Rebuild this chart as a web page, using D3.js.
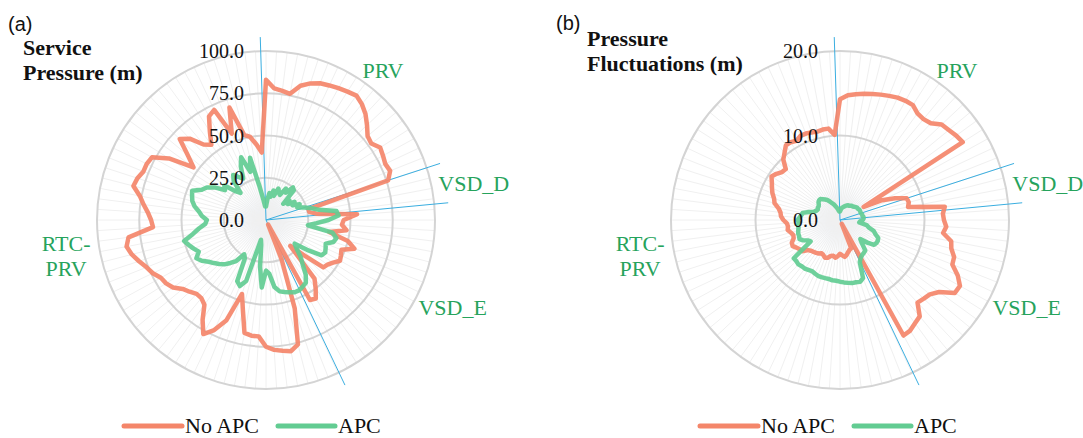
<!DOCTYPE html>
<html>
<head>
<meta charset="utf-8">
<script src="https://cdn.jsdelivr.net/npm/d3@7"></script>
<style>
  body { margin: 0; background: #fff; }
  svg { display: block; }
  .serif { font-family: "Liberation Serif", "Times New Roman", "DejaVu Serif", serif; }
  .sans { font-family: "Liberation Sans", Arial, sans-serif; }
</style>
</head>
<body>
<svg id="chart" width="1083" height="438"></svg>
<script>
// 100 nodes around the circle, starting at 12 o'clock, clockwise
const nodeCount = 100;

// (a) service pressure (m)
const pressureNoAPC = [
  83, 78, 77, 76, 82, 85, 87, 88, 89, 90,
  91, 89, 86, 82, 78, 77, 80, 79, 78, 79,
  76, 26, 26, 30, 54, 46, 45, 48, 38, 50,
  55, 48, 49, 50, 47, 45, 44, 30, 21, 45,
  50, 55, 54, 3, 25, 55, 76, 79, 78, 77,
  75, 69, 69, 68, 55, 46, 64, 72, 77, 70,
  62, 60, 60, 62, 64, 68, 70, 71, 74, 76,
  79, 82, 84, 82, 67, 68, 70, 73, 76, 81,
  80, 78, 78, 77, 68, 53, 60, 70, 66, 58,
  55, 62, 70, 72, 55, 70, 52, 50, 45, 40
];
const pressureAPC = [
  8, 12, 16, 14, 18, 15, 20, 18, 17, 22,
  20, 25, 24, 14, 18, 16, 20, 18, 22, 20,
  24, 28, 32, 42, 43, 37, 30, 25, 40, 43,
  42, 38, 39, 40, 39, 30, 22, 25, 30, 34,
  40, 44, 45, 46, 46, 45, 44, 43, 40, 32,
  30, 40, 28, 15, 12, 38, 42, 40, 26, 24,
  30, 33, 36, 38, 40, 42, 45, 47, 44, 46,
  48, 50, 44, 40, 36, 35, 38, 40, 43, 45,
  46, 47, 42, 40, 36, 30, 32, 25, 22, 30,
  33, 30, 28, 35, 40, 30, 38, 20, 12, 8
];

// (b) pressure fluctuations (m)
const fluctNoAPC = [
  14.3, 14.8, 15.0, 15.2, 15.4, 15.6, 15.8, 16.0, 16.1, 16.1,
  15.6, 15.5, 15.7, 16.5, 16.7, 17.0, 17.2, 3.2, 5.5, 7.0,
  8.3, 8.4, 8.2, 12.5, 12.2, 12.3, 12.6, 12.3, 13.4, 13.6,
  14.2, 14.3, 15.4, 16.2, 16.1, 14.5, 13.8, 13.6, 13.4, 14.8,
  15.1, 15.5, 15.6, 0.5, 3.6, 3.7, 3.9, 4.2, 4.4, 4.2,
  4.0, 4.3, 4.5, 4.3, 4.4, 4.7, 4.8, 4.6, 4.5, 4.7,
  4.8, 4.9, 5.0, 5.2, 5.8, 5.9, 6.1, 6.4, 6.3, 5.9,
  5.8, 6.0, 6.3, 6.2, 6.3, 6.7, 7.0, 7.1, 7.4, 8.0,
  8.2, 8.6, 8.9, 9.2, 9.6, 9.3, 8.9, 8.8, 9.8, 10.3,
  10.9, 10.9, 10.7, 11.0, 11.0, 10.9, 10.8, 10.9, 10.9, 10.1
];
const fluctAPC = [
  1.0, 1.2, 1.4, 1.5, 1.6, 1.7, 1.8, 1.9, 2.0, 2.0,
  2.1, 2.2, 2.2, 2.3, 2.4, 2.5, 2.5, 2.6, 2.6, 2.6,
  2.6, 2.7, 2.7, 2.8, 2.8, 2.7, 2.4, 2.3, 3.2, 3.5,
  4.2, 4.5, 5.0, 5.1, 5.1, 5.0, 4.2, 3.3, 3.8, 4.7,
  4.8, 4.9, 5.1, 5.5, 7.4, 7.7, 7.6, 7.6, 7.5, 7.4,
  7.3, 7.2, 7.2, 7.1, 7.1, 7.1, 7.1, 7.0, 6.9, 7.0,
  7.1, 7.1, 7.2, 7.1, 7.1, 4.3, 4.5, 5.0, 5.3, 5.2,
  5.2, 5.1, 5.0, 5.0, 4.9, 5.0, 4.8, 4.6, 4.5, 3.8,
  3.2, 3.0, 2.9, 3.0, 3.0, 3.1, 3.3, 3.4, 3.4, 3.2,
  3.0, 2.8, 2.5, 2.2, 2.0, 1.7, 1.5, 1.3, 1.1, 1.0
];

const pressureTicks = [0, 25, 50, 75, 100];
const fluctTicks = [0, 10, 20];

// control zones and the node positions (in node units) of the blue dividers
const zoneNames = ["PRV", "VSD_D", "VSD_E", ["RTC-", "PRV"]];
const dividerNodes = [-0.5, 20, 23.5, 42.9];

const seriesNames = ["No APC", "APC"];
const seriesColors = ["#f4866a", "#62cc92"];

const svg = d3.select("#chart");

const defs = svg.append("defs");
const grad = defs.append("radialGradient").attr("id", "glow");
grad.append("stop").attr("offset", "0%").attr("stop-color", "#dfe7f3");
grad.append("stop").attr("offset", "100%").attr("stop-color", "#ffffff").attr("stop-opacity", 0);

function drawRadar(opt) {
  const R = 169;
  const g = svg.append("g").attr("transform", `translate(${opt.cx},${opt.cy})`);

  const r = d3.scaleLinear().domain([0, opt.max]).range([0, R]);
  const a = d3.scaleLinear().domain([0, nodeCount]).range([0, 2 * Math.PI]);

  // glow in the middle
  g.append("circle").attr("r", 45).attr("fill", "url(#glow)");

  // spokes
  g.selectAll(".spoke")
    .data(d3.range(nodeCount))
    .enter().append("line")
    .attr("class", "spoke")
    .attr("x1", 0).attr("y1", 0)
    .attr("x2", d => R * Math.sin(a(d)))
    .attr("y2", d => -R * Math.cos(a(d)))
    .attr("stroke", "#f0f0f0")
    .attr("stroke-width", 1);

  // rings
  g.selectAll(".ring")
    .data(opt.ticks.filter(t => t > 0))
    .enter().append("circle")
    .attr("class", "ring")
    .attr("r", d => r(d))
    .attr("fill", "none")
    .attr("stroke", "#d4d4d4")
    .attr("stroke-width", 2);

  // blue dividers between zones
  g.selectAll(".divider")
    .data(dividerNodes)
    .enter().append("line")
    .attr("class", "divider")
    .attr("x1", 0).attr("y1", 0)
    .attr("x2", d => 183 * Math.sin(a(d)))
    .attr("y2", d => -183 * Math.cos(a(d)))
    .attr("stroke", "#3aaee0")
    .attr("stroke-width", 1);

  const line = d3.lineRadial()
    .angle((d, i) => a(i))
    .radius(d => r(d))
    .curve(d3.curveLinearClosed);

  [opt.noApc, opt.apc].forEach((s, k) => {
    g.append("path")
      .datum(s)
      .attr("d", line)
      .attr("fill", "none")
      .attr("stroke", seriesColors[k])
      .attr("stroke-width", 4.5)
      .attr("stroke-linejoin", "round")
      .attr("stroke-opacity", 0.92);
  });

  // tick labels on the vertical axis
  g.selectAll(".tick")
    .data(opt.ticks)
    .enter().append("text")
    .attr("class", "serif")
    .attr("x", -22)
    .attr("y", d => -r(d))
    .attr("dy", "0.35em")
    .attr("text-anchor", "end")
    .attr("font-size", 20)
    .attr("fill", "#111")
    .text(d => d.toFixed(1));

  // zone labels
  const labelPos = [[38, 190], [80, 211], [115, 206], [260, 203]];
  zoneNames.forEach((name, i) => {
    const ang = labelPos[i][0] * Math.PI / 180, rad = labelPos[i][1];
    const t = g.append("text")
      .attr("class", "serif")
      .attr("x", rad * Math.sin(ang))
      .attr("y", -rad * Math.cos(ang))
      .attr("text-anchor", "middle")
      .attr("font-size", 22)
      .attr("fill", "#26a35c");
    const lines = Array.isArray(name) ? name : [name];
    lines.forEach((l, j) => {
      t.append("tspan")
        .attr("x", rad * Math.sin(ang))
        .attr("dy", j === 0 ? (lines.length > 1 ? "-0.2em" : "0.35em") : "1.15em")
        .text(l);
    });
  });

  // panel letter and title
  svg.append("text")
    .attr("class", "sans")
    .attr("x", opt.letterX).attr("y", opt.letterY)
    .attr("font-size", 20)
    .attr("fill", "#111")
    .text(opt.letter);

  opt.title.forEach((l, j) => {
    svg.append("text")
      .attr("class", "serif")
      .attr("x", opt.titleX).attr("y", opt.titleY + j * 25)
      .attr("font-weight", "bold")
      .attr("font-size", 22)
      .attr("fill", "#111")
      .text(l);
  });

  // legend
  const lg = svg.append("g").attr("transform", `translate(${opt.legendX},426)`);
  const items = [{ x: 0, len: 58, tx: 61 }, { x: 154, len: 57, tx: 214 }];
  seriesNames.forEach((n, k) => {
    lg.append("line")
      .attr("x1", items[k].x).attr("x2", items[k].x + items[k].len)
      .attr("y1", 0).attr("y2", 0)
      .attr("stroke", seriesColors[k])
      .attr("stroke-width", 5)
      .attr("stroke-linecap", "round");
    lg.append("text")
      .attr("class", "serif")
      .attr("x", items[k].tx).attr("y", 0)
      .attr("dy", "0.33em")
      .attr("font-size", 22)
      .attr("fill", "#111")
      .text(n);
  });
}

drawRadar({
  cx: 266, cy: 220, max: 100, ticks: pressureTicks,
  noApc: pressureNoAPC, apc: pressureAPC,
  letter: "(a)", letterX: 8, letterY: 31,
  title: ["Service", "Pressure (m)"], titleX: 23, titleY: 55,
  legendX: 124
});

drawRadar({
  cx: 840, cy: 220, max: 20, ticks: fluctTicks,
  noApc: fluctNoAPC, apc: fluctAPC,
  letter: "(b)", letterX: 556, letterY: 30,
  title: ["Pressure", "Fluctuations (m)"], titleX: 587, titleY: 46,
  legendX: 700
});
</script>
</body>
</html>
